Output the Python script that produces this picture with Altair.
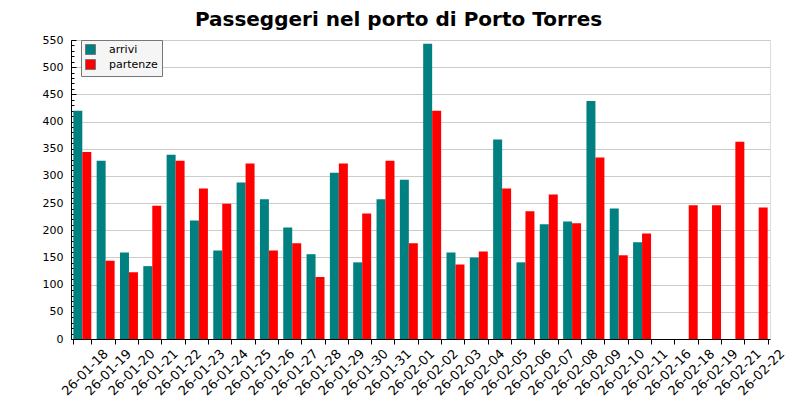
"""Grouped bar chart: passengers in the port of Porto Torres"""

import altair as alt
import pandas

dates = ["26-01-18", "26-01-19", "26-01-20", "26-01-21", "26-01-22", "26-01-23",
         "26-01-24", "26-01-25", "26-01-26", "26-01-27", "26-01-28", "26-01-29",
         "26-01-30", "26-01-31", "26-02-01", "26-02-02", "26-02-03", "26-02-04",
         "26-02-05", "26-02-06", "26-02-07", "26-02-08", "26-02-09", "26-02-10",
         "26-02-11", "26-02-16", "26-02-18", "26-02-19", "26-02-21", "26-02-22"]
arrivi = [420, 328, 159, 134, 339, 218, 163, 288, 257, 205,
          156, 306, 141, 257, 293, 543, 159, 150, 367, 141,
          211, 216, 438, 240, 178, None, None, None, None, None]
partenze = [344, 144, 123, 245, 328, 277, 249, 323, 163, 176,
            114, 323, 231, 328, 176, 420, 137, 161, 277, 235,
            266, 213, 334, 154, 194, None, 246, 246, 363, 242]

series = ["arrivi", "partenze"]
colors = ["#008080", "#ff0000"]
major_ticks = list(range(0, 551, 50))
minor_ticks = [v for v in range(0, 551, 10) if v % 50 != 0]

rows = []
for d, a, p in zip(dates, arrivi, partenze):
    rows.append({"data": d, "serie": "arrivi", "passeggeri": a})
    rows.append({"data": d, "serie": "partenze", "passeggeri": p})
df = pandas.DataFrame(rows)

font = "DejaVu Sans"
y_scale = alt.Scale(domain=[0, 550], nice=False)

bars = (
    alt.Chart(df)
    .mark_bar()
    .encode(
        x=alt.X("data:N", sort=dates, title=None,
                scale=alt.Scale(paddingInner=0.23, paddingOuter=0.1),
                axis=alt.Axis(tickBand="extent", labelAngle=-45, labelAlign="right",
                              labelBaseline="top", labelOffset=19, labelPadding=3,
                              tickSize=5, tickColor="black", domainColor="black",
                              labelFontSize=13, labelColor="black", labelFont=font,
                              grid=False)),
        xOffset=alt.XOffset("serie:N", scale=alt.Scale(domain=series, paddingInner=0)),
        y=alt.Y("passeggeri:Q", scale=y_scale, title=None,
                axis=alt.Axis(orient="left", values=major_ticks, ticks=False,
                              domainColor="black", gridColor="#cccccc",
                              labelPadding=8, labelFontSize=11, labelColor="black",
                              labelFont=font)),
        color=alt.Color("serie:N", scale=alt.Scale(domain=series, range=colors),
                        legend=alt.Legend(title=None, orient="none", legendX=10, legendY=0,
                                          fillColor="#f5f5f5", strokeColor="#777777",
                                          padding=4, symbolType="square", symbolSize=100,
                                          symbolStrokeColor="#777777", symbolStrokeWidth=1,
                                          labelFontSize=11, labelFont=font, labelOffset=13,
                                          rowPadding=0, labelColor="black")),
    )
)

# inward ticks on the y axis (major and minor), drawn as extra axes
major = alt.Chart(df).mark_point(opacity=0).encode(
    y=alt.Y("passeggeri:Q", scale=y_scale, title=None,
            axis=alt.Axis(orient="left", values=major_ticks, offset=-5, tickSize=5,
                          labels=False, domain=False, grid=False, tickColor="black"))
)
minor = alt.Chart(df).mark_point(opacity=0).encode(
    y=alt.Y("passeggeri:Q", scale=y_scale, title=None,
            axis=alt.Axis(orient="left", values=minor_ticks, offset=-3, tickSize=3,
                          labels=False, domain=False, grid=False, tickColor="black"))
)

chart = (
    alt.layer(bars, major, minor)
    .resolve_scale(y="shared")
    .resolve_axis(y="independent")
    .properties(
        width=699, height=299,
        autosize=alt.AutoSizeParams(type="none"),
        padding={"left": 63, "top": 32, "right": 20, "bottom": 58},
        title=alt.Title("Passeggeri nel porto di Porto Torres", fontSize=20, font=font,
                        fontWeight="bold", anchor="middle", dx=-22, offset=4,
                        color="black"),
    )
    .configure_view(stroke=None)
    .configure(background="white")
)

chart.save("out.html", embed_options={"renderer": "svg", "actions": False})
